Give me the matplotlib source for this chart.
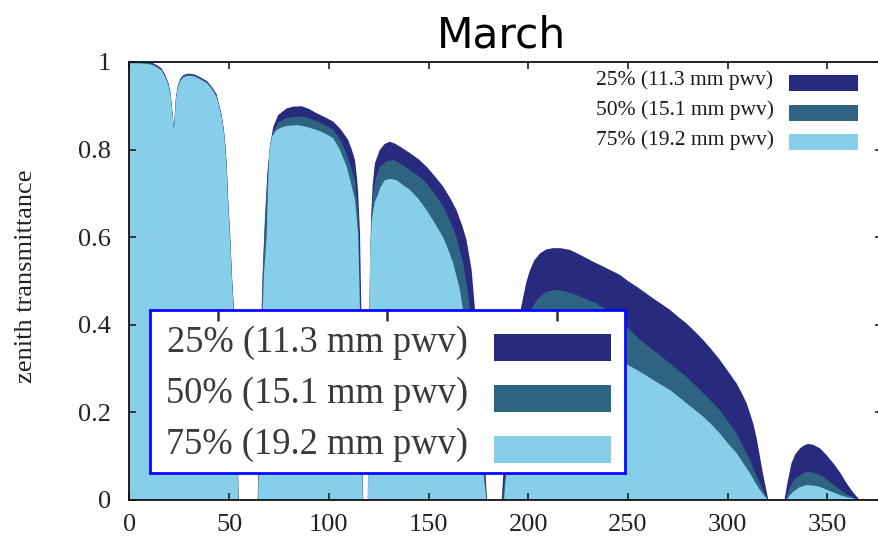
import matplotlib
matplotlib.use("Agg")
import matplotlib.pyplot as plt
from matplotlib.patches import Rectangle
from matplotlib.collections import PolyCollection
from matplotlib.legend_handler import HandlerPolyCollection

# Zenith transmittance spectra (frequency in GHz) for three pwv quartiles
freq_25 = [0, 5, 10, 12, 14, 16, 18, 19.5, 20.5, 21.3, 22.0, 22.3, 22.7, 23.3, 24.3, 25.5,
           27, 29, 31, 33, 36, 39, 41.5, 43.7, 45, 46.2, 47.4, 48.0, 48.8, 49.3, 50.5, 51.5,
           52.4, 53.1, 53.7, 54.2, 54.7,
           64.3, 65.0, 65.8, 66.8, 68.0, 69.2, 70.5, 72.1, 74.6, 78.8, 82, 86.4, 90, 93.9,
           98, 102.2, 106, 109.7, 111.5, 113.1, 114.2, 114.7, 115.6, 116.2, 116.7, 117.2,
           119.5, 120.0, 120.5, 121.2, 122, 123.1, 125.6, 128, 130.6, 133, 136, 140.7, 145,
           149, 153, 157.4, 161, 164, 167, 169, 171.6, 173.3, 175, 176.5, 177.8, 178.7, 179.3,
           186.7, 187.5, 188.3, 189.5, 190.8, 192.5, 194.2, 196, 197.5, 199, 200.9, 203,
           205.9, 209, 212.5, 216, 220.9, 225, 229.3, 233, 237.6, 242, 246, 250, 254.4,
           258.5, 262.7, 267, 271.1, 275, 279.4, 283.5, 287.8, 292, 296.1, 300, 304.5,
           307.5, 309.5, 311.2, 312.8, 314.6, 316.2, 317.5, 318.7, 320.4,
           328.5, 330, 332, 334, 336.3, 338.5, 340.4, 343, 346.3, 349.5, 353, 356.5, 359.7,
           362.5, 364.5, 366.3]
trans_25 = [1.0, 1.0, 0.999, 0.997, 0.992, 0.986, 0.970, 0.952, 0.932, 0.897, 0.862, 0.850,
            0.877, 0.920, 0.947, 0.962, 0.970, 0.973, 0.973, 0.971, 0.964, 0.956, 0.942,
            0.926, 0.902, 0.880, 0.842, 0.814, 0.764, 0.704, 0.604, 0.504, 0.434, 0.354,
            0.264, 0.154, 0.0,
            0.0, 0.15, 0.35, 0.52, 0.65, 0.75, 0.81, 0.852, 0.879, 0.894, 0.898, 0.899,
            0.893, 0.883, 0.874, 0.864, 0.846, 0.822, 0.80, 0.776, 0.73, 0.70, 0.609, 0.45,
            0.25, 0.0,
            0.0, 0.25, 0.5, 0.65, 0.72, 0.769, 0.80, 0.813, 0.818, 0.814, 0.806, 0.792,
            0.778, 0.761, 0.74, 0.715, 0.688, 0.662, 0.625, 0.594, 0.525, 0.434, 0.34, 0.24,
            0.13, 0.05, 0.0,
            0.0, 0.06, 0.122, 0.2, 0.274, 0.34, 0.388, 0.43, 0.464, 0.497, 0.525, 0.547,
            0.563, 0.572, 0.575, 0.575, 0.571, 0.562, 0.552, 0.543, 0.533, 0.523, 0.514,
            0.50, 0.487, 0.474, 0.46, 0.447, 0.434, 0.419, 0.403, 0.385, 0.365, 0.343, 0.32,
            0.295, 0.266, 0.24, 0.221, 0.198, 0.175, 0.14, 0.099, 0.065, 0.038, 0.0,
            0.0, 0.04, 0.084, 0.105, 0.118, 0.125, 0.128, 0.126, 0.118, 0.103, 0.084, 0.062,
            0.038, 0.02, 0.009, 0.0]

freq_50 = [0, 5, 10, 12, 14, 16, 18, 19.5, 20.5, 21.3, 22.0, 22.3, 22.7, 23.3, 24.3, 25.5,
           27, 29, 31, 33, 36, 39, 41.5, 43.7, 45, 46.2, 47.4, 48.0, 48.7, 49.2, 50.4, 51.4,
           52.3, 53.0, 53.6, 54.1, 54.6,
           64.4, 65.1, 65.9, 66.9, 68.1, 69.3, 70.4, 72, 74.6, 78.8, 85.5, 90, 93.9, 98,
           102.2, 106, 109, 111, 113.1, 114.7, 115.5, 116.4, 117.1,
           119.6, 120.1, 120.6, 121.3, 122.2, 123.5, 125.6, 129, 132.3, 136, 140.7, 145,
           149, 153, 157.4, 161, 164, 167.4, 169.5, 170.8, 172.5, 174.5, 176.5, 178, 179.1,
           187.3, 188.5, 190, 192, 194, 196.5, 199.2, 202, 204.2, 206.5, 209.2, 212.5,
           215.9, 220, 224.3, 229, 234.3, 239, 244.3, 248.5, 251.5, 254.4, 258.5, 262.7,
           267, 271.1, 275, 279.4, 283.5, 287.8, 292, 296.1, 300, 304.5, 308, 311.2, 313.8,
           316.2, 318, 319.6, 320.3,
           329, 331.2, 333.5, 336.3, 338.5, 341, 344, 348, 352, 356.5, 360, 363, 365.5]
trans_50 = [1.0, 1.0, 0.998, 0.995, 0.990, 0.984, 0.968, 0.950, 0.930, 0.895, 0.860, 0.848,
            0.875, 0.918, 0.945, 0.960, 0.968, 0.971, 0.971, 0.969, 0.962, 0.954, 0.940,
            0.923, 0.900, 0.878, 0.840, 0.812, 0.762, 0.702, 0.602, 0.502, 0.432, 0.352,
            0.262, 0.152, 0.0,
            0.0, 0.15, 0.35, 0.52, 0.645, 0.74, 0.805, 0.84, 0.862, 0.872, 0.876, 0.872,
            0.865, 0.856, 0.846, 0.82, 0.79, 0.76, 0.73, 0.655, 0.5, 0.27, 0.0,
            0.0, 0.25, 0.5, 0.64, 0.70, 0.735, 0.761, 0.773, 0.776, 0.768, 0.753, 0.74,
            0.723, 0.70, 0.67, 0.635, 0.60, 0.54, 0.48, 0.434, 0.36, 0.26, 0.16, 0.08, 0.0,
            0.0, 0.07, 0.15, 0.25, 0.32, 0.375, 0.418, 0.44, 0.455, 0.468, 0.476, 0.479,
            0.479, 0.474, 0.468, 0.459, 0.449, 0.435, 0.418, 0.40, 0.386, 0.373, 0.357,
            0.342, 0.327, 0.312, 0.297, 0.281, 0.263, 0.244, 0.225, 0.205, 0.18, 0.152,
            0.12, 0.091, 0.062, 0.038, 0.02, 0.005, 0.0,
            0.0, 0.03, 0.047, 0.057, 0.063, 0.065, 0.061, 0.053, 0.039, 0.023, 0.012,
            0.006, 0.0]

freq_75 = [0, 5, 10, 12, 14, 16, 18, 19.5, 20.5, 21.3, 22.0, 22.3, 22.7, 23.3, 24.3, 25.5,
           27, 29, 31, 33, 36, 39, 41.5, 43.7, 45, 46.2, 47.4, 47.9, 48.7, 49.2, 50.4, 51.4,
           52.3, 53.0, 53.6, 54.1, 54.5,
           64.5, 65.5, 66.5, 67.5, 68.8, 69.5, 70.2, 71.5, 73.8, 76, 78.8, 83.8, 88, 93.9,
           98, 102.2, 105.5, 108.9, 111, 113.1, 114.7, 115.5, 116.3, 117.0,
           119.6, 120.2, 120.6, 121.5, 123, 124, 126, 128, 131, 134, 137, 140.7, 145, 149,
           153, 157.3, 160, 162.4, 165.7, 167.3, 170, 172, 174, 176, 177.4, 179,
           187.8, 189, 190.5, 192.2, 194.2, 196.5, 199, 202, 205, 209, 213, 217, 221, 225,
           230, 235, 240, 244.5, 248.5, 254.4, 258.5, 262.7, 267, 271.1, 275, 279.4, 283.5,
           287.8, 292, 296.1, 300, 304.5, 308, 311.2, 313.8, 316.2, 318, 319.6, 320.4,
           329.5, 331, 332.9, 336, 339.6, 343, 346.3, 351, 356.5, 360, 363, 365]
trans_75 = [0.997, 0.997, 0.995, 0.992, 0.987, 0.981, 0.965, 0.947, 0.927, 0.892, 0.857,
            0.845, 0.872, 0.915, 0.942, 0.957, 0.965, 0.968, 0.968, 0.966, 0.959, 0.951,
            0.937, 0.920, 0.897, 0.875, 0.836, 0.808, 0.758, 0.698, 0.598, 0.498, 0.428,
            0.348, 0.258, 0.148, 0.0,
            0.0, 0.2, 0.4, 0.52, 0.6, 0.72, 0.8, 0.83, 0.845, 0.85, 0.854, 0.856, 0.853,
            0.845, 0.837, 0.826, 0.80, 0.761, 0.725, 0.685, 0.609, 0.45, 0.25, 0.0,
            0.0, 0.3, 0.55, 0.64, 0.68, 0.69, 0.715, 0.73, 0.733, 0.73, 0.72, 0.708, 0.687,
            0.662, 0.633, 0.60, 0.57, 0.54, 0.48, 0.434, 0.33, 0.25, 0.17, 0.10, 0.065, 0.0,
            0.0, 0.065, 0.14, 0.21, 0.26, 0.30, 0.33, 0.355, 0.372, 0.385, 0.39, 0.391,
            0.388, 0.381, 0.37, 0.357, 0.343, 0.328, 0.312, 0.297, 0.286, 0.274, 0.262,
            0.251, 0.237, 0.221, 0.206, 0.19, 0.172, 0.152, 0.13, 0.107, 0.083, 0.061, 0.04,
            0.023, 0.012, 0.004, 0.0,
            0.0, 0.01, 0.019, 0.029, 0.034, 0.033, 0.03, 0.021, 0.011, 0.006, 0.004, 0.0]

series_labels = ["25% (11.3 mm pwv)", "50% (15.1 mm pwv)", "75% (19.2 mm pwv)"]
series_colors = ["#272a7d", "#2e6382", "#87ceeb"]

x_ticks = [0, 50, 100, 150, 200, 250, 300, 350]
y_ticks = [0, 0.2, 0.4, 0.6, 0.8, 1.0]
y_tick_labels = ["0", "0.2", "0.4", "0.6", "0.8", "1"]

SERIF = "Liberation Serif"
W, H = 879, 539


class BarHandler(HandlerPolyCollection):
    """Legend key drawn as a flat bar sitting slightly below the text baseline."""

    def create_artists(self, legend, orig_handle, xdescent, ydescent,
                       width, height, fontsize, trans):
        p = Rectangle((-xdescent, -0.27 * fontsize), width, 0.74 * fontsize)
        self.update_prop(p, orig_handle, legend)
        p.set_transform(trans)
        return [p]


fig = plt.figure(figsize=(W / 100, H / 100), dpi=100)
ax = fig.add_axes([129.5 / W, (H - 500) / H, (882 - 129.5) / W, 438 / H])

handles = []
for fx, ty, col in zip([freq_25, freq_50, freq_75], [trans_25, trans_50, trans_75],
                       series_colors):
    handles.append(ax.fill_between(fx, 0, ty, facecolor=col, linewidth=0))

ax.set_xlim(0, 377.4)
ax.set_ylim(0, 1)
ax.set_xticks(x_ticks)
ax.set_xticklabels([str(v) for v in x_ticks], family=SERIF, fontsize=19, color="#222222")
ax.set_yticks(y_ticks)
ax.set_yticklabels(y_tick_labels, family=SERIF, fontsize=19, color="#222222")
ax.tick_params(direction="in", top=True, right=True, length=5, width=1.1, color="#111111")
ax.tick_params(axis="x", pad=10)
ax.tick_params(axis="y", pad=13.5)
for s in ax.spines.values():
    s.set_linewidth(1.3)
    s.set_color("#111111")

ax.set_title("March", fontsize=30.5, family="DejaVu Sans", pad=10.5, x=0.495)
ax.set_ylabel("zenith transmittance", family=SERIF, fontsize=19, color="#222222", va="center")
ax.yaxis.set_label_coords((26.5 - 129.5) / 752.5, 0.51)

hmap = {PolyCollection: BarHandler()}
leg_kw = dict(frameon=False, markerfirst=False, handlelength=3.2, handletextpad=0.72,
              labelspacing=0.45, borderpad=0, borderaxespad=0, handler_map=hmap)

ax.legend(handles, series_labels, loc="upper right",
          bbox_to_anchor=(858 / W, (H - 70) / H), bbox_transform=fig.transFigure,
          prop={"family": SERIF, "size": 15.5}, labelcolor="#1a1a1a", **leg_kw)

# enlarged copy of the key in a blue box
box = fig.add_axes([150 / W, (H - 473) / H, 475 / W, 163 / H])
box.set_facecolor("white")
box.set_xlim(0, 1)
box.set_ylim(0, 1)
box.set_yticks([])
box.set_xticks([(218 - 150) / 475, (387 - 150) / 475, (557 - 150) / 475])
box.tick_params(axis="x", bottom=False, top=True, labelbottom=False, labeltop=False,
                direction="in", length=8, width=1.8, color="#333333")
for s in box.spines.values():
    s.set_linewidth(2)
    s.set_color("#0a0aff")
box.legend(handles, series_labels, loc="upper right",
           bbox_to_anchor=((611 - 150) / 475, (473 - 325) / 163),
           prop={"family": SERIF, "size": 26.3}, labelcolor="#3a3a3a", **leg_kw)

fig.savefig("out.png", dpi=100)
